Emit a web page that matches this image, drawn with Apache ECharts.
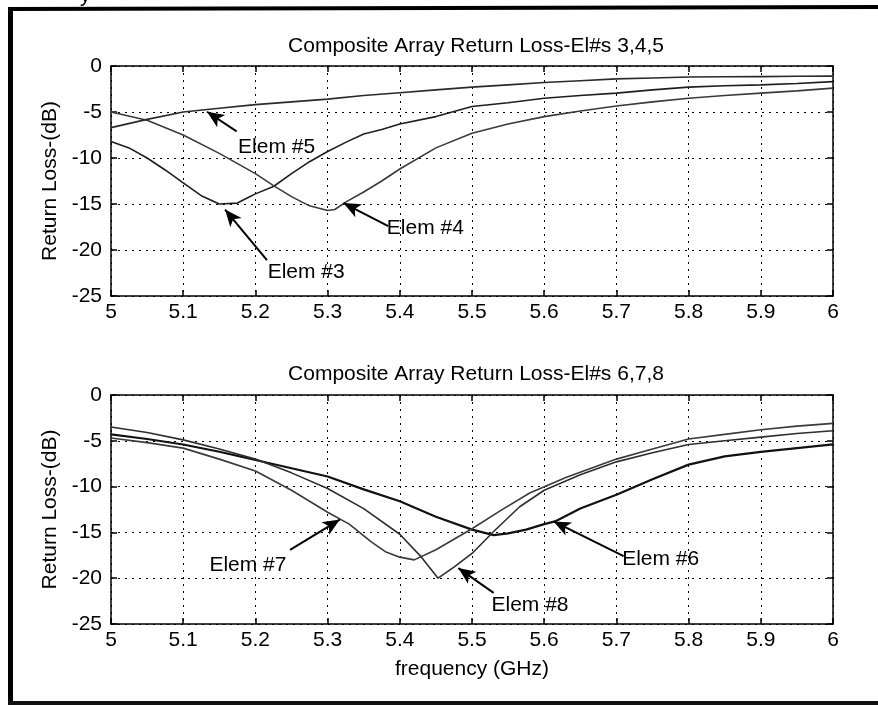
<!DOCTYPE html>
<html>
<head>
<meta charset="utf-8">
<script src="https://cdn.jsdelivr.net/npm/echarts@6/dist/echarts.min.js"></script>
<style>
html,body{margin:0;padding:0;background:#fff;}
#chart{width:878px;height:706px;}
</style>
</head>
<body>
<div id="chart"></div>
<script>
// ---- data ----
const xTickLabels = ['5','5.1','5.2','5.3','5.4','5.5','5.6','5.7','5.8','5.9','6'];
const yTickLabels = ['-25','-20','-15','-10','-5','0'];

const titleTop = 'Composite Array Return Loss-El#s 3,4,5';
const titleBottom = 'Composite Array Return Loss-El#s 6,7,8';
const yName = 'Return Loss-(dB)';
const xName = 'frequency (GHz)';

const elem3 = [[5.00,-8.2],[5.025,-8.9],[5.05,-10.0],[5.075,-11.3],[5.10,-12.7],[5.125,-14.1],[5.15,-15.0],[5.175,-14.9],[5.19,-14.3],[5.20,-13.9],[5.225,-13.1],[5.25,-11.7],[5.275,-10.4],[5.30,-9.3],[5.325,-8.3],[5.35,-7.4],[5.375,-6.9],[5.40,-6.3],[5.45,-5.5],[5.50,-4.4],[5.55,-4.0],[5.60,-3.5],[5.65,-3.2],[5.70,-2.95],[5.75,-2.6],[5.80,-2.3],[5.85,-2.15],[5.90,-2.05],[5.95,-1.9],[6.00,-1.7]];
const elem4 = [[5.00,-5.0],[5.05,-5.9],[5.10,-7.5],[5.15,-9.5],[5.20,-11.7],[5.225,-13.0],[5.25,-14.2],[5.275,-15.2],[5.30,-15.7],[5.31,-15.6],[5.325,-14.8],[5.35,-13.7],[5.375,-12.5],[5.40,-11.2],[5.45,-8.9],[5.50,-7.3],[5.55,-6.3],[5.60,-5.5],[5.65,-4.9],[5.70,-4.35],[5.75,-3.9],[5.80,-3.5],[5.85,-3.2],[5.90,-2.95],[5.95,-2.7],[6.00,-2.4]];
const elem5 = [[5.00,-6.7],[5.05,-5.8],[5.10,-5.0],[5.15,-4.6],[5.20,-4.2],[5.25,-3.9],[5.30,-3.6],[5.35,-3.2],[5.40,-2.9],[5.45,-2.6],[5.50,-2.3],[5.55,-2.05],[5.60,-1.8],[5.65,-1.6],[5.70,-1.4],[5.75,-1.3],[5.80,-1.2],[5.85,-1.17],[5.90,-1.15],[5.95,-1.12],[6.00,-1.1]];

const elem6 = [[5.00,-4.3],[5.05,-4.8],[5.10,-5.4],[5.15,-6.2],[5.20,-7.1],[5.25,-8.0],[5.30,-8.9],[5.35,-10.3],[5.40,-11.6],[5.45,-13.3],[5.50,-14.7],[5.53,-15.3],[5.55,-15.1],[5.575,-14.7],[5.60,-14.1],[5.615,-13.8],[5.65,-12.4],[5.70,-10.9],[5.75,-9.2],[5.80,-7.6],[5.85,-6.7],[5.90,-6.2],[5.95,-5.8],[6.00,-5.4]];
const elem7 = [[5.00,-4.7],[5.05,-5.2],[5.10,-5.8],[5.15,-7.0],[5.20,-8.3],[5.25,-10.4],[5.30,-12.8],[5.33,-14.1],[5.36,-16.0],[5.38,-17.1],[5.40,-17.7],[5.42,-18.0],[5.45,-16.9],[5.50,-14.6],[5.54,-12.6],[5.58,-10.7],[5.63,-9.0],[5.70,-7.0],[5.75,-5.9],[5.80,-4.8],[5.85,-4.3],[5.90,-3.8],[5.95,-3.4],[6.00,-3.1]];
const elem8 = [[5.00,-3.5],[5.05,-4.1],[5.10,-4.9],[5.15,-5.9],[5.20,-7.0],[5.25,-8.5],[5.30,-10.2],[5.35,-12.4],[5.40,-15.2],[5.43,-17.7],[5.453,-20.0],[5.475,-18.8],[5.50,-17.3],[5.53,-14.9],[5.566,-12.2],[5.60,-10.4],[5.65,-8.7],[5.70,-7.3],[5.75,-6.3],[5.80,-5.4],[5.85,-5.0],[5.90,-4.6],[5.95,-4.2],[6.00,-3.9]];

// annotations: label text, arrow tip, arrow tail, label anchor (data coords)
const note3 = {text:'Elem #3', tip:[5.158,-15.6], tail:[5.216,-21.1], at:[5.217,-22.4], side:'right'};
const note4 = {text:'Elem #4', tip:[5.322,-14.9], tail:[5.384,-17.4], at:[5.382,-17.6], side:'right'};
const note5 = {text:'Elem #5', tip:[5.133,-4.97], tail:[5.174,-7.1], at:[5.176,-8.8], side:'right'};
const note6 = {text:'Elem #6', tip:[5.613,-13.8], tail:[5.71,-17.6], at:[5.708,-17.9], side:'right'};
const note7 = {text:'Elem #7', tip:[5.317,-13.6], tail:[5.248,-16.9], at:[5.243,-18.6], side:'left'};
const note8 = {text:'Elem #8', tip:[5.481,-18.9], tail:[5.53,-21.6], at:[5.527,-23.0], side:'right'};

// ---- chart ----
const FONT = '"Liberation Sans", Arial, sans-serif';
const FS = 21;
const chart = echarts.init(document.getElementById('chart'), null, {renderer:'canvas'});

function xAxisFor(gi, withName){
  return [{
    type:'value', gridIndex:gi, min:5, max:6, interval:0.1, position:'bottom',
    axisLine:{show:true, onZero:false, lineStyle:{color:'#000', width:1.5}},
    axisTick:{show:true, inside:true, length:6, lineStyle:{color:'#000', width:1.5}},
    axisLabel:{color:'#000', fontSize:FS, fontFamily:FONT, margin:6,
      formatter:v=>xTickLabels[Math.round((v-5)*10)]},
    splitLine:{show:true, lineStyle:{color:'#000', width:1, type:[2,5]}},
    name: withName ? xName : '', nameLocation:'middle', nameGap:35,
    nameTextStyle:{color:'#000', fontSize:FS, fontFamily:FONT}
  },{
    type:'value', gridIndex:gi, min:5, max:6, interval:0.1, position:'top',
    axisLine:{show:true, onZero:false, lineStyle:{color:'#000', width:1.5}},
    axisTick:{show:true, inside:true, length:6, lineStyle:{color:'#000', width:1.5}},
    axisLabel:{show:false}, splitLine:{show:false}
  }];
}
function yAxisFor(gi){
  return [{
    type:'value', gridIndex:gi, min:-25, max:0, interval:5, position:'left',
    axisLine:{show:true, onZero:false, lineStyle:{color:'#000', width:1.5}},
    axisTick:{show:true, inside:true, length:6, lineStyle:{color:'#000', width:1.5}},
    axisLabel:{color:'#000', fontSize:FS, fontFamily:FONT, margin:9,
      formatter:v=>yTickLabels[Math.round((v+25)/5)]},
    splitLine:{show:true, lineStyle:{color:'#000', width:1, type:[2,5]}},
    name:yName, nameLocation:'middle', nameGap:48, nameRotate:90,
    nameTextStyle:{color:'#000', fontSize:FS, fontFamily:FONT}
  },{
    type:'value', gridIndex:gi, min:-25, max:0, interval:5, position:'right',
    axisLine:{show:true, onZero:false, lineStyle:{color:'#000', width:1.5}},
    axisTick:{show:true, inside:true, length:6, lineStyle:{color:'#000', width:1.5}},
    axisLabel:{show:false}, splitLine:{show:false}
  }];
}

function elemSeries(data, gi, note, color, width){
  return {
    type:'line', xAxisIndex:gi*2, yAxisIndex:gi*2, data:data,
    showSymbol:false, symbol:'none', smooth:false, silent:true,
    lineStyle:{color:color, width:width},
    z:3,
    markLine:{
      silent:true, symbol:['none','arrow'], symbolSize:[11,17],
      lineStyle:{color:'#000', width:2, type:'solid'},
      label:{show:false},
      data:[[{coord:note.tail},{coord:note.tip}]]
    },
    markPoint:{
      silent:true, symbol:'circle', symbolSize:0,
      label:{show:true, position:note.side, distance:0, formatter:note.text,
        color:'#000', fontSize:FS, fontFamily:FONT},
      data:[{coord:note.at}]
    }
  };
}

const option = {
  backgroundColor:'#fff',
  animation:false,
  title:[
    {text:titleTop, left:471, top:31, textAlign:'center',
      textStyle:{color:'#000', fontSize:FS, fontWeight:'normal', fontFamily:FONT}},
    {text:titleBottom, left:471, top:359, textAlign:'center',
      textStyle:{color:'#000', fontSize:FS, fontWeight:'normal', fontFamily:FONT}}
  ],
  grid:[
    {left:111, top:66, width:722, height:230, containLabel:false},
    {left:111, top:395, width:722, height:229, containLabel:false}
  ],
  xAxis:[...xAxisFor(0,false), ...xAxisFor(1,true)],
  yAxis:[...yAxisFor(0), ...yAxisFor(1)],
  series:[
    elemSeries(elem3, 0, note3, '#1e1e1e', 1.6),
    elemSeries(elem4, 0, note4, '#3a3a3a', 1.6),
    elemSeries(elem5, 0, note5, '#2a2a2a', 1.6),
    elemSeries(elem6, 1, note6, '#111', 2.2),
    elemSeries(elem7, 1, note7, '#3a3a3a', 1.6),
    elemSeries(elem8, 1, note8, '#2e2e2e', 1.6)
  ],
  graphic:[
    {type:'line', shape:{x1:10.5, y1:8, x2:10.5, y2:705}, style:{stroke:'#000', lineWidth:5}, silent:true},
    {type:'line', shape:{x1:8, y1:9, x2:878, y2:7}, style:{stroke:'#000', lineWidth:4}, silent:true},
    {type:'line', shape:{x1:8, y1:703, x2:878, y2:703}, style:{stroke:'#111', lineWidth:4}, silent:true},
    {type:'text', left:80, top:-14, silent:true, style:{text:'y', fill:'#000', fontSize:FS, fontFamily:FONT}}
  ]
};
chart.setOption(option);
</script>
</body>
</html>
